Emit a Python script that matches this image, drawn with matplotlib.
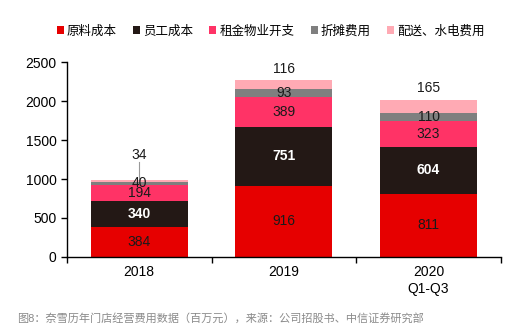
import matplotlib

matplotlib.use("Agg")
import matplotlib.pyplot as plt
import numpy as np

plt.rcParams["font.family"] = ["Liberation Sans", "Noto Sans CJK SC", "DejaVu Sans"]

YEARS = ["2018", "2019", "2020\nQ1-Q3"]
SERIES = ["原料成本", "员工成本", "租金物业开支", "折摊费用", "配送、水电费用"]
RAW = [384, 916, 811]
STAFF = [340, 751, 604]
RENT = [194, 389, 323]
DEPREC = [40, 93, 110]
DELIVERY = [34, 116, 165]
COLORS = ["#e60000", "#231815", "#ff3366", "#7f7f7f", "#ffaab4"]
TEXT_COLORS = ["#1a1a1a", "white", "#1a1a1a", "#1a1a1a", "#1a1a1a"]


def main() -> None:
    fig = plt.figure(figsize=(5.06, 3.32), dpi=100)
    ax = fig.add_axes([0.132, 0.226, 0.858, 0.587])

    x = np.arange(len(YEARS))
    bottom = np.zeros(len(YEARS))
    data = [RAW, STAFF, RENT, DEPREC, DELIVERY]
    for i, (name, vals) in enumerate(zip(SERIES, data)):
        vals = np.array(vals, dtype=float)
        ax.bar(x, vals, 0.67, bottom=bottom, color=COLORS[i], label=name)
        for j, v in enumerate(vals):
            if i < 4:
                y = bottom[j] + v / 2
                if i == 3 and j == 0:
                    y += 15
                ax.text(x[j], y, f"{int(v)}", ha="center", va="center",
                        fontsize=10, color=TEXT_COLORS[i],
                        fontweight="bold" if i == 1 else "normal")
            else:
                top = bottom[j] + v
                if j == 0:
                    ax.plot([x[j], x[j]], [top - 10, top + 220], color="#999999", lw=0.8)
                    ax.text(x[j], top + 310, f"{int(v)}", ha="center", va="center",
                            fontsize=10, color="#1a1a1a")
                else:
                    ax.text(x[j], top + 150, f"{int(v)}", ha="center", va="center",
                            fontsize=10, color="#1a1a1a")
        bottom += vals

    ax.set_xlim(-0.5, 2.5)
    ax.set_ylim(0, 2500)
    ax.set_yticks([0, 500, 1000, 1500, 2000, 2500])
    ax.set_xticks(x)
    ax.set_xticklabels(YEARS, fontsize=10)
    ax.set_xticks([-0.5, 0.5, 1.5, 2.5], minor=True)
    ax.tick_params(axis="x", which="major", length=0, pad=6)
    ax.tick_params(axis="x", which="minor", length=4, direction="out", width=1)
    ax.tick_params(axis="y", labelsize=10, length=4, direction="out", width=1)
    for s in ["top", "right"]:
        ax.spines[s].set_visible(False)
    ax.spines["left"].set_linewidth(1)
    ax.spines["bottom"].set_linewidth(1)

    fig.legend(loc="center", bbox_to_anchor=(0.535, 0.905), ncol=5, frameon=False,
               fontsize=9, handlelength=0.55, handleheight=0.55, handletextpad=0.25,
               columnspacing=1.3)

    fig.text(0.033, 0.042, "图8：奈雪历年门店经营费用数据（百万元），来源：公司招股书、中信证券研究部",
             fontsize=8, color="#8a8a8a", ha="left", va="center")

    fig.savefig("out.png", dpi=100)
    plt.close(fig)


if __name__ == "__main__":
    main()
